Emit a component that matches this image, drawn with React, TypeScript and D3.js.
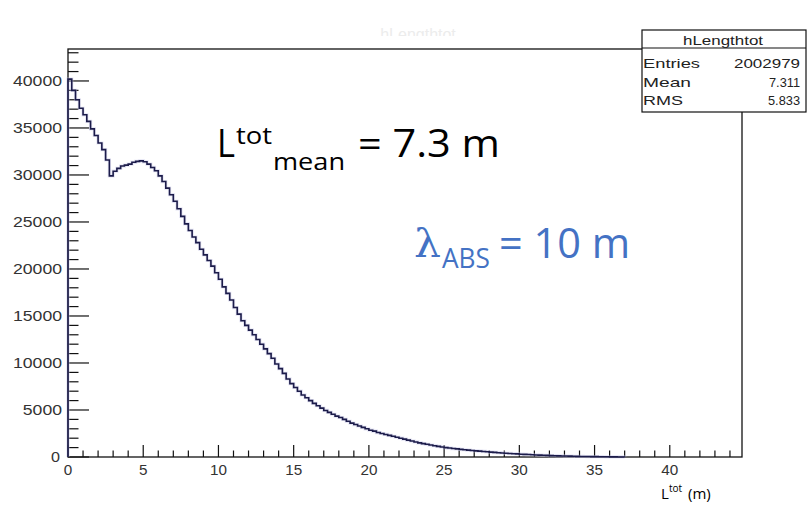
import React from "react";
import * as d3 from "d3";

// Histogram "hLengthtot": bin width 0.25 m starting at 0
const binWidth = 0.25;
const counts: number[] = [
  40200, 39000, 38000, 37100, 36400, 35700, 34900, 34200, 33400, 32700,
  31600, 29900, 30400, 30700, 30950, 31050, 31150, 31350, 31450, 31500,
  31400, 31150, 30800, 30450, 29900, 29300, 28600, 27900, 27200, 26400,
  25600, 24800, 24100, 23400, 22800, 22100, 21500, 20900, 20300, 19600,
  18900, 18100, 17400, 16700, 15900, 15200, 14500, 14000, 13500, 13000,
  12500, 12000, 11500, 11000, 10500, 9900, 9400, 8900, 8300, 7800,
  7400, 7000, 6600, 6300, 6000, 5700, 5450, 5200, 4950, 4750,
  4550, 4350, 4200, 4000, 3800, 3600, 3450, 3300, 3150, 3000,
  2850, 2750, 2600, 2500, 2400, 2300, 2200, 2100, 2000, 1900,
  1800, 1700, 1600, 1500, 1420, 1350, 1270, 1200, 1130, 1070,
  1000, 950, 900, 860, 810, 770, 730, 690, 650, 620,
  590, 560, 520, 490, 460, 430, 400, 380, 350, 330,
  300, 280, 260, 240, 220, 200, 180, 170, 150, 140,
  120, 110, 100, 90, 80, 70, 60, 55, 50, 40,
  35, 30, 25, 20, 15, 10, 8, 5,
];

const xMajorTicks = [0, 5, 10, 15, 20, 25, 30, 35, 40];
const yMajorTicks = [0, 5000, 10000, 15000, 20000, 25000, 30000, 35000, 40000];
const xDomain: [number, number] = [0, 44.8];
const yDomain: [number, number] = [0, 43400];

const statsTitle = "hLengthtot";
const statsRows: [string, string][] = [
  ["Entries", "2002979"],
  ["Mean", "7.311"],
  ["RMS", "5.833"],
];

const FRAME = { left: 68, right: 742, top: 49, bottom: 457 };
const AXFONT = "'Liberation Sans', Arial, Helvetica, sans-serif";
const ANNFONT = "'Open Sans', 'Noto Sans', sans-serif";

export default function App() {
  const x = d3.scaleLinear().domain(xDomain).range([FRAME.left, FRAME.right]);
  const y = d3.scaleLinear().domain(yDomain).range([FRAME.bottom, FRAME.top]);

  const pts: [number, number][] = [[0, 0]];
  counts.forEach((c, i) => pts.push([i * binWidth, c]));
  pts.push([counts.length * binWidth, counts[counts.length - 1]]);
  pts.push([counts.length * binWidth, 0]);
  const line = d3
    .line<[number, number]>()
    .x((d) => x(d[0]))
    .y((d) => y(d[1]))
    .curve(d3.curveStepAfter);
  const path = line(pts) || "";

  const xMinor = d3.range(0, 45, 1);
  const yMinor = d3.range(0, 43401, 1000);
  const xMajLen = 12, xMinLen = 6.5, yMajLen = 21, yMinLen = 10.5;

  const yLabelWidth = (s: string) => (s === "0" ? 9 : s.length * 9.8);

  return (
    <svg
      width={807}
      height={505}
      style={{ position: "absolute", left: 0, top: 0, background: "#fff" }}
      xmlns="http://www.w3.org/2000/svg"
    >
      <rect x={0} y={0} width={807} height={505} fill="#fff" />
      <defs>
        <clipPath id="titleClip">
          <rect x={300} y={26} width={250} height={10} />
        </clipPath>
      </defs>
      {/* faint cut-off title */}
      <text
        x={418}
        y={40}
        textAnchor="middle"
        fontFamily={AXFONT}
        fontSize={16}
        fill="#ececec"
        clipPath="url(#titleClip)"
      >
        hLengthtot
      </text>

      {/* frame */}
      <rect
        x={FRAME.left}
        y={FRAME.top}
        width={FRAME.right - FRAME.left}
        height={FRAME.bottom - FRAME.top}
        fill="none"
        stroke="#111"
        strokeWidth={1.3}
      />

      {/* x ticks */}
      {xMinor.map((v) => (
        <line
          key={"xm" + v}
          x1={x(v)}
          x2={x(v)}
          y1={FRAME.bottom}
          y2={FRAME.bottom - (v % 5 === 0 ? xMajLen : xMinLen)}
          stroke="#111"
          strokeWidth={1.2}
        />
      ))}
      {/* y ticks */}
      {yMinor.map((v) => (
        <line
          key={"ym" + v}
          x1={FRAME.left}
          x2={FRAME.left + (v % 5000 === 0 ? yMajLen : yMinLen)}
          y1={y(v)}
          y2={y(v)}
          stroke="#111"
          strokeWidth={1.2}
        />
      ))}

      {/* x labels */}
      {xMajorTicks.map((v) => {
        const s = String(v);
        return (
          <text
            key={"xl" + v}
            x={x(v) - (s.length * 8.5) / 2}
            y={475}
            fontFamily={AXFONT}
            fontSize={14}
            fill="#333"
            textLength={s.length * 8.5}
            lengthAdjust="spacingAndGlyphs"
          >
            {s}
          </text>
        );
      })}
      {/* y labels */}
      {yMajorTicks.map((v) => {
        const s = String(v);
        const w = yLabelWidth(s);
        const right = v === 0 ? 60 : 62;
        return (
          <text
            key={"yl" + v}
            x={right - w}
            y={y(v) + 5}
            fontFamily={AXFONT}
            fontSize={14}
            fill="#333"
            textLength={w}
            lengthAdjust="spacingAndGlyphs"
          >
            {s}
          </text>
        );
      })}

      {/* histogram */}
      <path d={path} fill="none" stroke="#c8c8e8" strokeWidth={3.2} opacity={0.5} />
      <path d={path} fill="none" stroke="#1c1c4a" strokeWidth={1.6} />

      {/* stats box */}
      <rect x={642} y={30} width={164} height={82} fill="#fff" stroke="#111" strokeWidth={1.2} />
      <line x1={642} x2={806} y1={48} y2={48} stroke="#111" strokeWidth={1.2} />
      <text
        x={683}
        y={45}
        fontFamily={AXFONT}
        fontSize={13.5}
        fill="#222"
        textLength={80}
        lengthAdjust="spacingAndGlyphs"
      >
        {statsTitle}
      </text>
      {statsRows.map(([k, v], i) => {
        const base = [68, 87, 105][i];
        const kw = [57, 48, 40][i];
        const vw = [66, 31, 32][i];
        return (
          <g key={k}>
            <text
              x={643}
              y={base}
              fontFamily={AXFONT}
              fontSize={13.5}
              fill="#222"
              textLength={kw}
              lengthAdjust="spacingAndGlyphs"
            >
              {k}
            </text>
            <text
              x={800 - vw}
              y={base}
              fontFamily={AXFONT}
              fontSize={13.5}
              fill="#222"
              textLength={vw}
              lengthAdjust="spacingAndGlyphs"
            >
              {v}
            </text>
          </g>
        );
      })}

      {/* annotation: L^tot_mean = 7.3 m */}
      <text x={217} y={157} fontFamily={ANNFONT} fontSize={38} fill="#000" textLength={18} lengthAdjust="spacingAndGlyphs">
        L
      </text>
      <text x={236} y={144} fontFamily={ANNFONT} fontSize={24} fill="#000" textLength={36} lengthAdjust="spacingAndGlyphs">
        tot
      </text>
      <text x={273} y={170} fontFamily={ANNFONT} fontSize={24} fill="#000" textLength={72} lengthAdjust="spacingAndGlyphs">
        mean
      </text>
      <text x={358} y={157} fontFamily={ANNFONT} fontSize={38} fill="#000" textLength={142} lengthAdjust="spacingAndGlyphs">
        = 7.3 m
      </text>

      {/* annotation: lambda_ABS = 10 m */}
      <text x={414} y={257} fontFamily="'DejaVu Serif', serif" fontSize={40} fill="#4472C4" textLength={27} lengthAdjust="spacingAndGlyphs">
        λ
      </text>
      <text x={442} y={268} fontFamily={ANNFONT} fontSize={28} fill="#4472C4" textLength={48} lengthAdjust="spacingAndGlyphs">
        ABS
      </text>
      <text x={499} y={258} fontFamily={ANNFONT} fontSize={42} fill="#4472C4" textLength={131} lengthAdjust="spacingAndGlyphs">
        = 10 m
      </text>

      {/* axis title */}
      <text x={661} y={499} fontFamily={ANNFONT} fontSize={15} fill="#000">
        L
      </text>
      <text x={669} y={492} fontFamily={ANNFONT} fontSize={10} fill="#000">
        tot
      </text>
      <text x={688} y={499} fontFamily={ANNFONT} fontSize={15} fill="#000">
        (m)
      </text>
    </svg>
  );
}
